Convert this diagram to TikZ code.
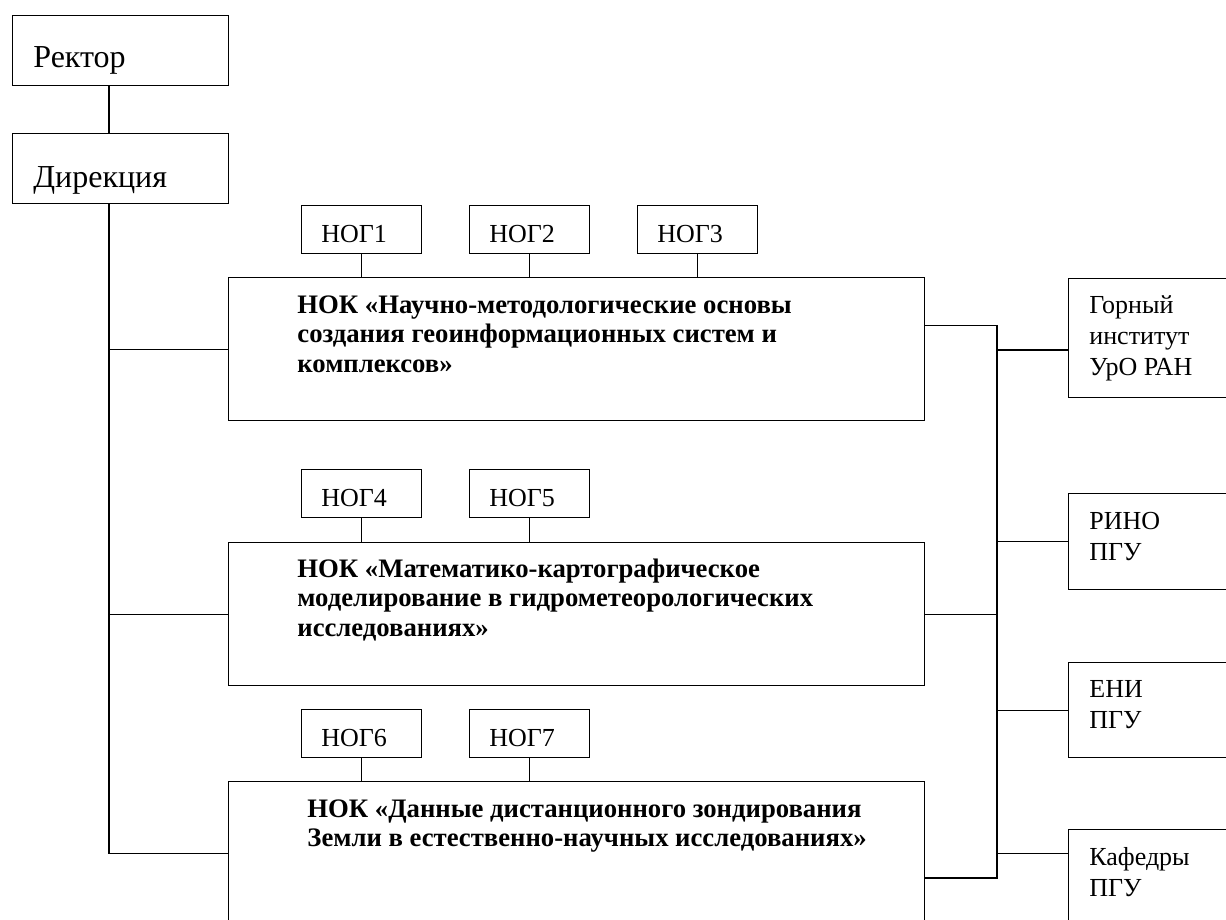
\documentclass[tikz,border=0pt]{standalone}
\usepackage{fontspec}
\setmainfont{Liberation Serif}
\usetikzlibrary{positioning,calc}

% строки текста: базовая линия по первой строке
\newcommand{\boxlines}[1]{\begin{tabular}[t]{@{}l@{}}#1\end{tabular}}

\tikzset{
  box/.style={draw, line width=0.7pt, inner sep=0pt, anchor=north west},
  nog/.style={box, minimum width=60pt, minimum height=24pt},
  nokbox/.style={box, minimum width=348pt, minimum height=71.5pt},
  side/.style={box, minimum width=100pt},
  lbl/.style={anchor=base west, inner sep=0pt,
    font=\fontsize{13}{15.5}\selectfont},
  big/.style={lbl, font=\fontsize{16}{19}\selectfont},
  noktext/.style={lbl, font=\fontsize{13.35}{14.75}\selectfont\bfseries},
  link/.style={line width=0.7pt},
}

\begin{document}
\begin{tikzpicture}[x=0.5pt,y=-0.5pt]
\clip (0,0) rectangle (1226,920);

% руководство
\node[box, minimum width=108pt, minimum height=35pt] (rector) at (12,15) {};
\node[box, minimum width=108pt, minimum height=35pt] (direct) at (12,133) {};
\node[big] (rectorT) at ($(rector.north west)+(21,53)$) {Ректор};
\node[big] (directT) at ($(direct.north west)+(21,54)$) {Дирекция};

% НОК
\node[nokbox] (nok1) at (228,277) {};
\node[nokbox] (nok2) at (228,542) {};
\node[nokbox] (nok3) at (228,781) {};
\node[noktext] (nok1T) at ($(nok1.north west)+(69,36)$)
  {\boxlines{НОК «Научно-методологические основы\\создания геоинформационных систем и\\комплексов»}};
\node[noktext] (nok2T) at ($(nok2.north west)+(69,35)$)
  {\boxlines{НОК «Математико-картографическое\\моделирование в гидрометеорологических\\исследованиях»}};
\node[noktext] (nok3T) at ($(nok3.north west)+(79,36)$)
  {\boxlines{НОК «Данные дистанционного зондирования\\Земли в естественно-научных исследованиях»}};

% НОГ
\foreach \i/\x/\y/\k in {1/301/205/1, 2/469/205/1, 3/637/205/1,
                         4/301/469/2, 5/469/469/2,
                         6/301/709/3, 7/469/709/3}{
  \node[nog] (nog\i) at (\x,\y) {};
  \node[lbl] (nogT\i) at ($(nog\i.north west)+(20,37)$) {НОГ\i};
  \draw[link] (nog\i.south) -- (nog\i.south |- nok\k.north);
}

% партнёры
\node[side, minimum height=59.5pt] (gorny) at (1068,278) {};
\node[side, minimum height=48pt] (rino) at (1068,493) {};
\node[side, minimum height=47.5pt] (eni) at (1068,662) {};
\node[side, minimum height=48pt] (kafedry) at (1068,829) {};
\node[lbl] (gornyT) at ($(gorny.north west)+(21,35)$) {\boxlines{Горный\\институт\\УрО РАН}};
\node[lbl] (rinoT) at ($(rino.north west)+(21,36)$) {\boxlines{РИНО\\ПГУ}};
\node[lbl] (eniT) at ($(eni.north west)+(21,35)$) {\boxlines{ЕНИ\\ПГУ}};
\node[lbl] (kafedryT) at ($(kafedry.north west)+(21,36)$) {\boxlines{Кафедры\\ПГУ}};

% связи
\coordinate (lsp) at (109,0);
\coordinate (rsp) at (997,0);
\draw[link] (rector.south -| lsp) -- (direct.north -| lsp);
\draw[link] (direct.south -| lsp) -- (lsp |- nok3.west) -- (nok3.west);
\draw[link] (lsp |- nok1.west) -- (nok1.west);
\draw[link] (lsp |- nok2.west) -- (nok2.west);

\coordinate (n1e) at ($(nok1.north east)!0.336!(nok1.south east)$);
\coordinate (n3e) at ($(nok3.north east)!0.671!(nok3.south east)$);
\draw[link] (n1e) -- (n1e -| rsp) -- (n3e -| rsp) -- (n3e);
\draw[link] (nok2.east) -- (nok2.east -| rsp);

\coordinate (gw) at ($(gorny.north west)!0.597!(gorny.south west)$);
\coordinate (kw) at ($(kafedry.north west)!0.25!(kafedry.south west)$);
\draw[link] (gw -| rsp) -- (gw);
\draw[link] (rino.west -| rsp) -- (rino.west);
\draw[link] (eni.west -| rsp) -- (eni.west);
\draw[link] (kw -| rsp) -- (kw);
\end{tikzpicture}
\end{document}
